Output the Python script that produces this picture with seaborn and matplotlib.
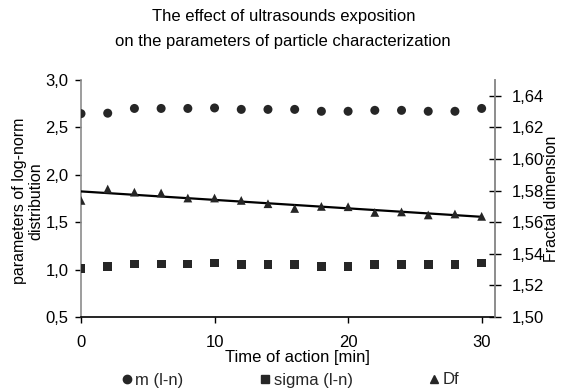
import numpy as np
import pandas as pd
import seaborn as sns
import matplotlib.pyplot as plt
from matplotlib.lines import Line2D

sns.set_theme(style="white")
plt.rcParams['font.family'] = ['Liberation Sans', 'DejaVu Sans']

# Time of ultrasound action [min]
time_min = [0, 2, 4, 6, 8, 10, 12, 14, 16, 18, 20, 22, 24, 26, 28, 30]
# Log-normal distribution parameters
m_ln = [2.645, 2.65, 2.70, 2.70, 2.70, 2.705, 2.69, 2.69, 2.69, 2.67, 2.67, 2.68, 2.68, 2.67, 2.67, 2.70]
sigma_ln = [1.01, 1.03, 1.06, 1.06, 1.06, 1.07, 1.05, 1.05, 1.05, 1.03, 1.035, 1.05, 1.05, 1.05, 1.05, 1.07]
# Fractal dimension
df_vals = [1.5738, 1.581, 1.579, 1.5785, 1.5753, 1.5753, 1.5738, 1.5717, 1.5687,
           1.570, 1.5698, 1.5662, 1.5665, 1.5646, 1.5652, 1.5637]

x_ticks = [0, 10, 20, 30]
left_ticks = [0.5, 1.0, 1.5, 2.0, 2.5, 3.0]
right_ticks = [1.50, 1.52, 1.54, 1.56, 1.58, 1.60, 1.62, 1.64]

data = pd.DataFrame({"time": time_min, "m": m_ln, "sigma": sigma_ln, "Df": df_vals})

mark_color = "#262626"
spine_gray = "#8c8c8c"
fs = 12
fs_lab = 11.5

fig = plt.figure(figsize=(5.61, 3.89), dpi=100)
ax = fig.add_axes([81 / 561, 1 - 317 / 389, (495 - 81) / 561, (317 - 80) / 389])
ax2 = ax.twinx()

sns.scatterplot(data=data, x="time", y="m", ax=ax, marker="o", s=42,
                color=mark_color, edgecolor="none", zorder=3)
sns.scatterplot(data=data, x="time", y="sigma", ax=ax, marker="s", s=40,
                color=mark_color, edgecolor="none", zorder=3)
sns.scatterplot(data=data, x="time", y="Df", ax=ax2, marker="^", s=40,
                color=mark_color, edgecolor="none", zorder=3)
# Linear trend of the fractal dimension
sns.regplot(data=data, x="time", y="Df", ax=ax2, scatter=False, ci=None,
            truncate=True, line_kws={"color": "black", "lw": 1.6})

ax.set_xlim(0, 31)
ax.set_ylim(0.5, 3.0)
ax2.set_ylim(1.50, 1.65)
ax.set_xticks(x_ticks)
ax.set_xticklabels([str(t) for t in x_ticks])
ax.set_yticks(left_ticks)
ax.set_yticklabels([f"{v:.1f}".replace(".", ",") for v in left_ticks])
ax2.set_yticks(right_ticks)
ax2.set_yticklabels([f"{v:.2f}".replace(".", ",") for v in right_ticks])

for a in (ax, ax2):
    a.grid(False)
    a.spines["top"].set_visible(False)
    a.spines["left"].set_color(spine_gray)
    a.spines["right"].set_color(spine_gray)
    a.spines["bottom"].set_color("black")
    for s in ("left", "right", "bottom"):
        a.spines[s].set_linewidth(1.2)
ax2.spines["left"].set_visible(False)
ax2.spines["bottom"].set_visible(False)

ax.tick_params(axis="y", which="both", left=True, direction="out", length=4,
               width=1, color="black", labelsize=fs, pad=5, labelcolor="black")
ax.tick_params(axis="x", which="both", bottom=True, direction="out", length=4,
               width=1, color="black", labelsize=fs, pad=9, labelcolor="black")
ax2.tick_params(axis="y", right=True, direction="inout", length=8, width=1,
                color="black", labelsize=fs, pad=8, labelcolor="black")

ax.set_xlabel("Time of action [min]", fontsize=fs, color="black")
ax.xaxis.set_label_coords(0.524, -0.14)
ax.set_ylabel("parameters of log-norm\ndistribution", fontsize=fs_lab, color="black",
              linespacing=1.15)
ax.yaxis.set_label_coords(-0.09, 0.49)
ax2.set_ylabel("Fractal dimension", fontsize=fs_lab, color="black")
ax2.yaxis.set_label_coords(1.119, 0.5)

fig.suptitle("The effect of ultrasounds exposition\non the parameters of particle characterization",
             x=0.505, y=0.978, fontsize=fs, linespacing=1.85, color="black")

handles = [
    Line2D([], [], ls="none", marker="o", ms=6, color=mark_color, label="m (l-n)"),
    Line2D([], [], ls="none", marker="s", ms=5.5, color=mark_color, label="sigma (l-n)"),
    Line2D([], [], ls="none", marker="^", ms=6, color=mark_color, label="Df"),
]
fig.legend(handles=handles, loc="center", bbox_to_anchor=(0.518, 1 - 380 / 389), ncol=3,
           frameon=False, fontsize=fs, handletextpad=0.2, columnspacing=4.6,
           handlelength=0.6, borderpad=0.0)

fig.savefig("out.png", dpi=100)
